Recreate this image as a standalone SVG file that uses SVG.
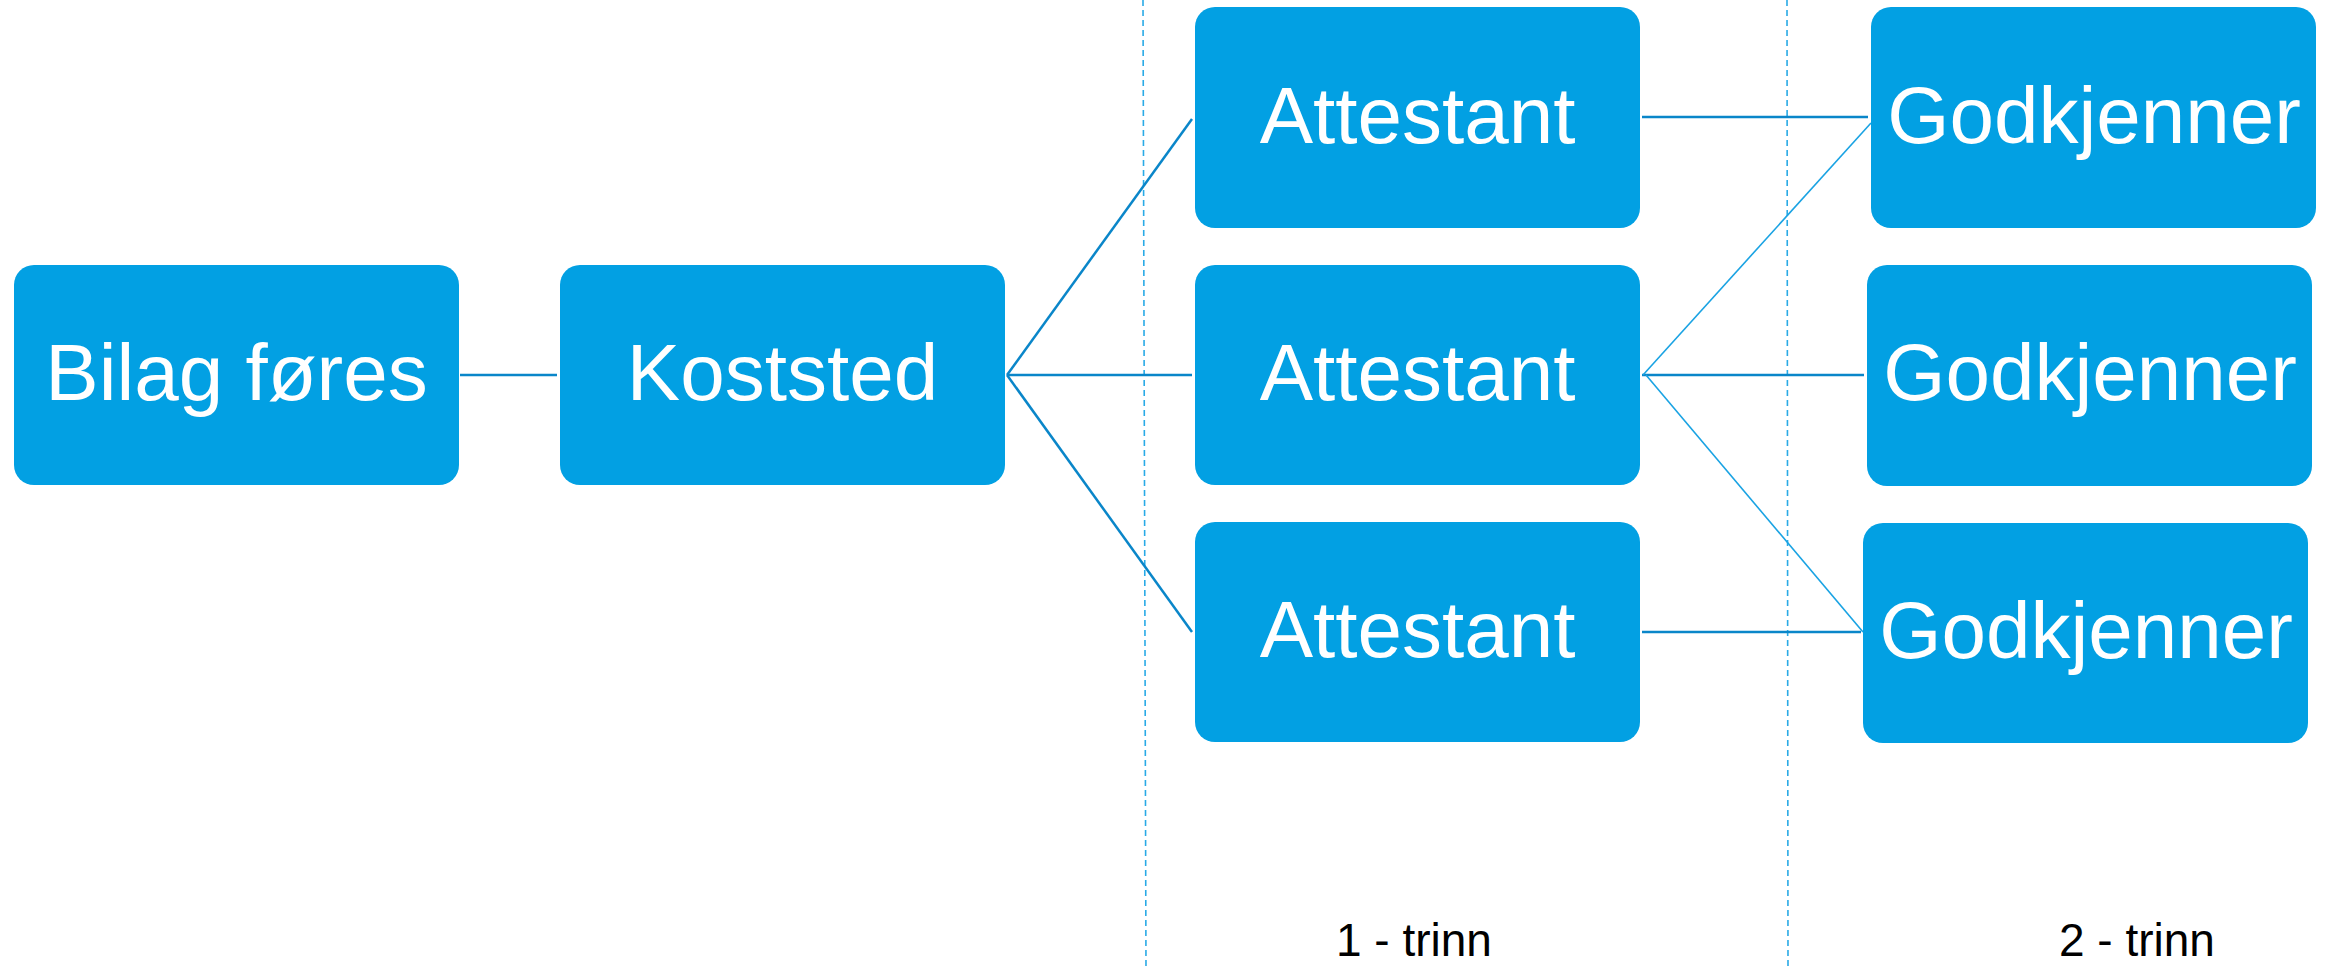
<svg xmlns="http://www.w3.org/2000/svg" width="2331" height="969" viewBox="0 0 2331 969">
<style>
.box{fill:#02a0e3;}
.lbl{font-family:"Liberation Sans",Arial,sans-serif;font-size:80px;fill:#ffffff;text-anchor:middle;}
.step{font-family:"Liberation Sans",Arial,sans-serif;font-size:46px;fill:#000000;}
.c1{stroke:#0a86c9;stroke-width:2.5;fill:none;}
.c2{stroke:#1aa3e3;stroke-width:1.6;fill:none;}
.dash{stroke:#29aae6;stroke-width:1.6;stroke-dasharray:6 4;fill:none;}
</style>
<rect width="2331" height="969" fill="#ffffff"/>
<g id="guides">
<line class="dash" x1="1143" y1="0" x2="1146" y2="969"/>
<line class="dash" x1="1787" y1="0" x2="1788" y2="969"/>
</g>
<g id="connectors">
<line class="c1" x1="460" y1="375" x2="557" y2="375"/>
<line class="c1" x1="1007" y1="375" x2="1192" y2="119"/>
<line class="c1" x1="1007" y1="375" x2="1192" y2="375"/>
<line class="c1" x1="1007" y1="375" x2="1192" y2="632"/>
<line class="c1" x1="1642" y1="117" x2="1868" y2="117"/>
<line class="c1" x1="1642" y1="375" x2="1864" y2="375"/>
<line class="c1" x1="1642" y1="632" x2="1861" y2="632"/>
<line class="c2" x1="1643" y1="375" x2="1871" y2="123"/>
<line class="c2" x1="1646" y1="375" x2="1863" y2="632"/>
</g>
<g id="bilag"><rect class="box" x="14" y="265" width="445" height="220" rx="20"/><text class="lbl" x="236.5" y="400">Bilag føres</text></g>
<g id="koststed"><rect class="box" x="560" y="265" width="445" height="220" rx="20"/><text class="lbl" x="782.5" y="400">Koststed</text></g>
<g id="attestant1"><rect class="box" x="1195" y="7" width="445" height="221" rx="20"/><text class="lbl" x="1417.5" y="143">Attestant</text></g>
<g id="attestant2"><rect class="box" x="1195" y="265" width="445" height="220" rx="20"/><text class="lbl" x="1417.5" y="400">Attestant</text></g>
<g id="attestant3"><rect class="box" x="1195" y="522" width="445" height="220" rx="20"/><text class="lbl" x="1417.5" y="657">Attestant</text></g>
<g id="godkjenner1"><rect class="box" x="1871" y="7" width="445" height="221" rx="20"/><text class="lbl" x="2094" y="143">Godkjenner</text></g>
<g id="godkjenner2"><rect class="box" x="1867" y="265" width="445" height="221" rx="20"/><text class="lbl" x="2090" y="400">Godkjenner</text></g>
<g id="godkjenner3"><rect class="box" x="1863" y="523" width="445" height="220" rx="20"/><text class="lbl" x="2086" y="658">Godkjenner</text></g>
<g id="steps">
<text class="step" x="1336" y="956">1 - trinn</text>
<text class="step" x="2059" y="956">2 - trinn</text>
</g>
</svg>
